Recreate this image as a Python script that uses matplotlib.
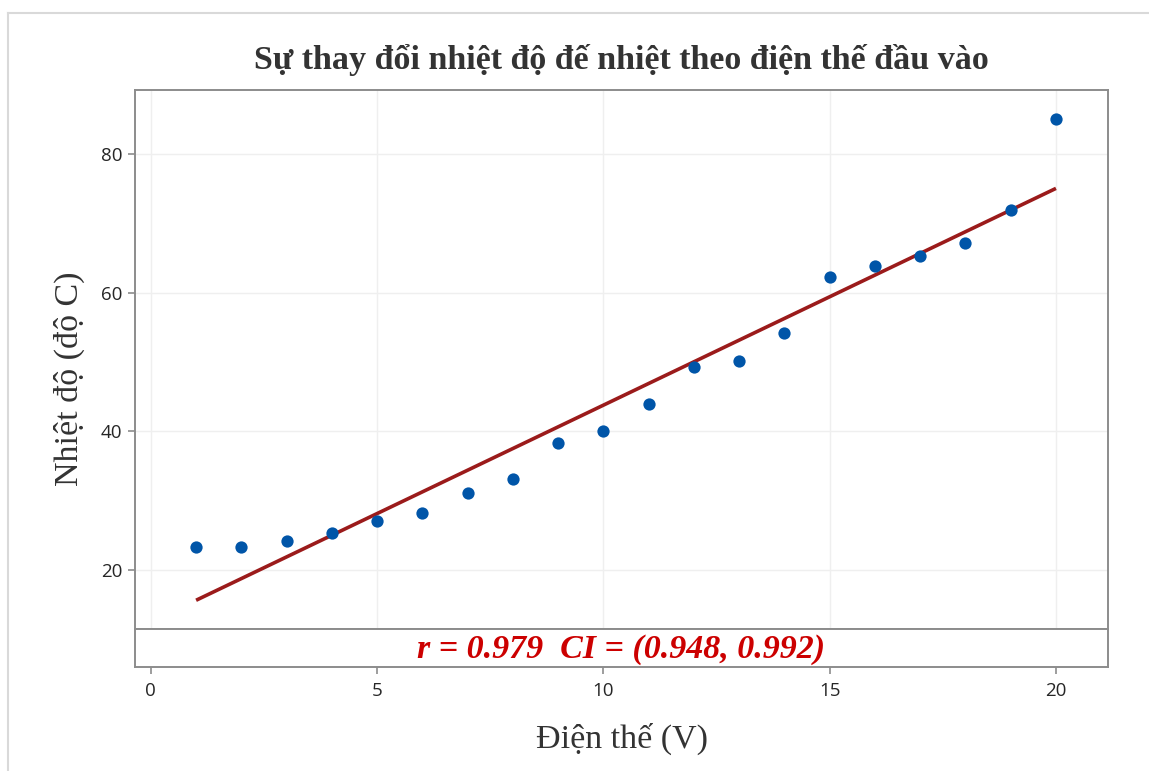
import numpy as np
import matplotlib
matplotlib.use("Agg")
import matplotlib.pyplot as plt
from matplotlib.lines import Line2D

# Input voltage (V) and measured heater temperature (deg C)
voltage = [1, 2, 3, 4, 5, 6, 7, 8, 9, 10, 11, 12, 13, 14, 15, 16, 17, 18, 19, 20]
temperature = [23.3, 23.3, 24.2, 25.3, 27.0, 28.2, 31.1, 33.1, 38.3, 40.0,
               44.0, 49.2, 50.1, 54.1, 62.3, 63.9, 65.2, 67.1, 71.9, 85.0]
x_ticks = [0, 5, 10, 15, 20]
y_ticks = [20, 40, 60, 80]

title = "Sự thay đổi nhiệt độ đế nhiệt theo điện thế đầu vào"
x_label = "Điện thế (V)"
y_label = "Nhiệt độ (độ C)"
stats_text = "r = 0.979  CI = (0.948, 0.992)"

W, H = 1149, 771
fig = plt.figure(figsize=(W / 100, H / 100), dpi=100)
fig.patch.set_facecolor("white")

# light frame around the whole figure
fig.add_artist(Line2D([8 / W, 8 / W], [0, 1 - 13 / H], transform=fig.transFigure,
                      color="#d9d9d9", lw=1.5))
fig.add_artist(Line2D([8 / W, 1], [1 - 13 / H, 1 - 13 / H], transform=fig.transFigure,
                      color="#d9d9d9", lw=1.5))

left, right = 135, 1108
top, sep, bottom = 90, 629, 667
ax = fig.add_axes([left / W, 1 - sep / H, (right - left) / W, (sep - top) / H])
strip = fig.add_axes([left / W, 1 - bottom / H, (right - left) / W, (bottom - sep) / H],
                     sharex=ax)

xmin, xmax = -0.35, 21.15
ax.set_xlim(xmin, xmax)
ax.set_ylim(11.5, 89.2)

spine_col = "#8c8c8c"
for a in (ax, strip):
    for s in a.spines.values():
        s.set_color(spine_col)
        s.set_linewidth(1.4)

tick_font = dict(family="Open Sans", size=13.5)

ax.grid(True, color="#efefef", lw=1.0)
ax.set_axisbelow(True)
ax.set_xticks(x_ticks)
ax.set_yticks(y_ticks)
ax.tick_params(axis="x", which="both", length=0, labelbottom=False)
ax.tick_params(axis="y", length=5, width=1.2, color=spine_col,
               labelcolor="#262626", pad=4)
for lbl in ax.get_yticklabels():
    lbl.set_fontfamily(tick_font["family"])
    lbl.set_fontsize(tick_font["size"])

# least-squares fit line
slope, intercept = np.polyfit(voltage, temperature, 1)
xf = np.array([min(voltage), max(voltage)])
ax.plot(xf, slope * xf + intercept, color="#9b1b1b", lw=2.6, zorder=2,
        solid_capstyle="butt")
ax.scatter(voltage, temperature, s=78, color="#0055a8", zorder=3, linewidths=0)

ax.set_title(title, fontfamily="Liberation Serif", fontweight="bold",
             fontsize=24.5, color="#333333", pad=15)
ax.set_ylabel(y_label, fontfamily="Liberation Serif", fontsize=24.5,
              color="#333333")
# centre the y label on the full plotting block (main panel + strip)
ax.yaxis.set_label_coords(-0.0515, (sep - (top + bottom) / 2) / (sep - top))

# bottom strip with correlation summary
strip.set_yticks([])
strip.set_ylim(0, 1)
strip.tick_params(axis="x", length=5, width=1.2, color=spine_col,
                  labelcolor="#262626", pad=6)
strip.set_xticks(x_ticks)
for lbl in strip.get_xticklabels():
    lbl.set_fontfamily(tick_font["family"])
    lbl.set_fontsize(tick_font["size"])
strip.text(0.5, 0.47, stats_text, transform=strip.transAxes, ha="center",
           va="center", fontfamily="Liberation Serif", fontweight="bold",
           fontstyle="italic", fontsize=24.5, color="#cc0000")
strip.set_xlabel(x_label, fontfamily="Liberation Serif", fontsize=24.5,
                 color="#333333", labelpad=16)

fig.savefig("out.png", dpi=100, facecolor="white")
